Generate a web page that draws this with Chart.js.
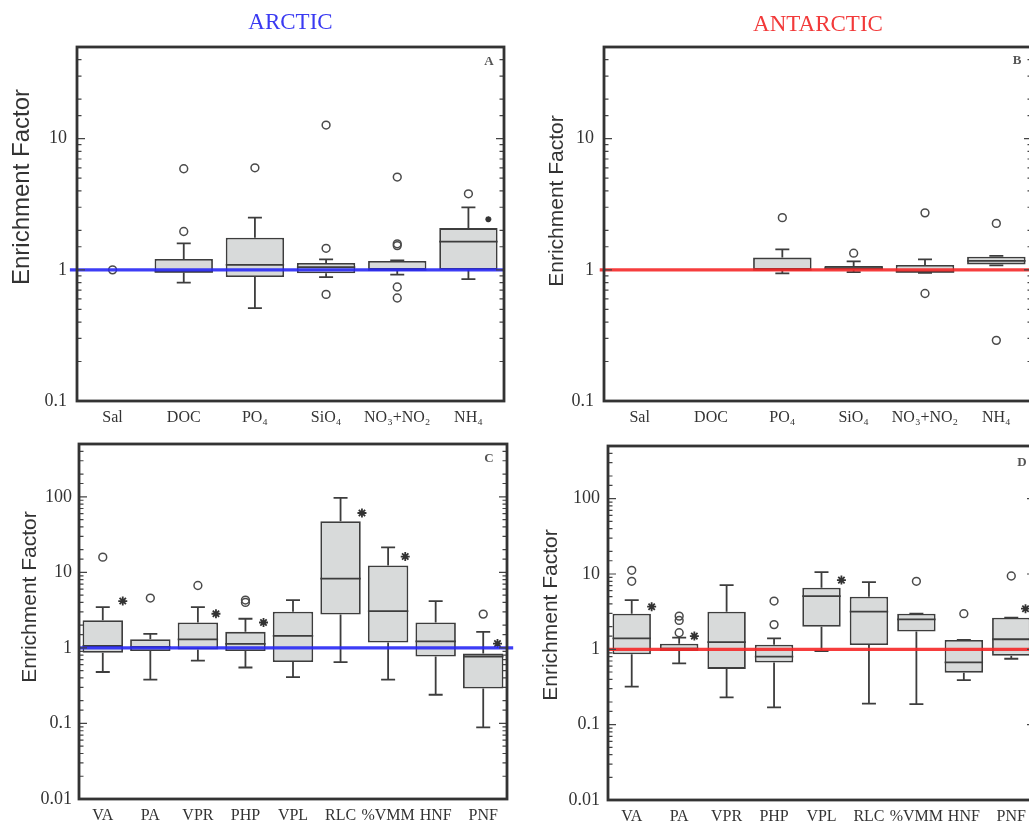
<!DOCTYPE html>
<html>
<head>
<meta charset="utf-8">
<script src="https://cdn.jsdelivr.net/npm/chart.js@4.4.1/dist/chart.umd.min.js"></script>
<style>
  html, body { margin: 0; padding: 0; background: #fff; overflow: hidden; width: 1029px; height: 827px; }
  canvas { position: absolute; left: 0; top: 0; }
</style>
</head>
<body>
<canvas id="chartA" width="1060" height="860"></canvas>
<canvas id="chartB" width="1060" height="860"></canvas>
<canvas id="chartC" width="1060" height="860"></canvas>
<canvas id="chartD" width="1060" height="860"></canvas>
<script>
// categories
const nutrientLabels = ['Sal', 'DOC', 'PO₄', 'SiO₄', 'NO₃+NO₂', 'NH₄'];
const bioLabels = ['VA', 'PA', 'VPR', 'PHP', 'VPL', 'RLC', '%VMM', 'HNF', 'PNF'];

// box stats per category: [low whisker, q1, median, q3, high whisker]
const arcticNutrientBoxes = [
    null,
    [0.80, 0.95, 0.97, 1.21, 1.59],
    [0.51, 0.88, 1.09, 1.76, 2.50],
    [0.88, 0.94, 1.05, 1.13, 1.20],
    [0.92, 1.00, 1.00, 1.17, 1.18],
    [0.85, 1.00, 1.64, 2.08, 2.99]
];
// outliers: [category index, value]
const arcticNutrientOutliers = [[0, 1.0], [1, 1.96], [1, 5.9], [2, 6.0], [3, 12.7], [3, 1.46], [3, 0.65],
    [4, 5.1], [4, 1.58], [4, 1.53], [4, 0.74], [4, 0.61], [5, 3.8]];
// significance asterisks: [category position, value]
const arcticNutrientStars = [[5.28, 2.43]];

const antarcticNutrientBoxes = [
    null,
    null,
    [0.94, 1.00, 1.00, 1.24, 1.43],
    [0.96, 1.00, 1.03, 1.07, 1.16],
    [0.95, 0.95, 0.97, 1.09, 1.20],
    [1.08, 1.10, 1.17, 1.26, 1.28]
];
const antarcticNutrientOutliers = [[2, 2.5], [3, 1.34], [4, 2.72], [4, 0.66], [5, 2.26], [5, 0.29]];
const antarcticNutrientStars = [];

const arcticBioBoxes = [
    [0.48, 0.86, 1.06, 2.33, 3.47],
    [0.38, 0.91, 1.03, 1.30, 1.53],
    [0.68, 0.95, 1.30, 2.17, 3.47],
    [0.55, 0.91, 1.13, 1.63, 2.43],
    [0.41, 0.65, 1.44, 3.01, 4.30],
    [0.65, 2.77, 8.27, 47.4, 96.7],
    [0.38, 1.18, 3.07, 12.3, 21.4],
    [0.24, 0.77, 1.22, 2.17, 4.17],
    [0.089, 0.29, 0.77, 0.84, 1.63]
];
const arcticBioOutliers = [[0, 15.9], [1, 4.57], [2, 6.7], [3, 4.0], [3, 4.3], [8, 2.8]];
const arcticBioStars = [[0.42, 4.17], [2.38, 2.83], [3.38, 2.17], [5.45, 61], [6.36, 16.2], [8.3, 1.14]];

const antarcticBioBoxes = [
    [0.32, 0.86, 1.40, 2.97, 4.5],
    [0.65, 0.95, 1.02, 1.19, 1.43],
    [0.23, 0.55, 1.25, 3.16, 7.1],
    [0.17, 0.67, 0.80, 1.15, 1.40],
    [0.95, 2.00, 5.08, 6.56, 10.6],
    [0.19, 1.14, 3.16, 5.00, 7.8],
    [0.187, 1.72, 2.50, 2.97, 2.97],
    [0.39, 0.49, 0.67, 1.33, 1.33],
    [0.75, 0.82, 1.36, 2.63, 2.63]
];
const antarcticBioOutliers = [[0, 11.2], [0, 8.0], [1, 2.76], [1, 2.42], [1, 1.66], [3, 4.37], [3, 2.13],
    [6, 8.0], [7, 2.97], [8, 9.4]];
const antarcticBioStars = [[0.42, 3.68], [1.32, 1.5], [4.42, 8.3], [8.3, 3.46]];

const CW = 1060, CH = 860;
const Y_AXIS_W = 60, X_AXIS_H = 30;
const LINE_COLOR = '#3d3d3d';

function isDecade(v) {
    const l = Math.log10(v);
    return Math.abs(l - Math.round(l)) < 1e-6;
}

// whiskers + medians, drawn right after the boxes so the reference line stays on top
function boxPlugin(boxes) {
    return {
        id: 'boxWhiskers',
        afterDatasetDraw(chart, args) {
            if (args.index !== 0) return;
            const y = chart.scales.y;
            const meta = chart.getDatasetMeta(0);
            const ctx = chart.ctx;
            ctx.save();
            ctx.strokeStyle = LINE_COLOR;
            ctx.lineWidth = 1.8;
            boxes.forEach((b, i) => {
                if (!b) return;
                const bar = meta.data[i];
                const x = bar.x, half = bar.width / 2, cap = 7;
                const [lo, q1, med, q3, hi] = b;
                const pLo = y.getPixelForValue(lo), pQ1 = y.getPixelForValue(q1);
                const pMed = y.getPixelForValue(med), pQ3 = y.getPixelForValue(q3);
                const pHi = y.getPixelForValue(hi);
                ctx.beginPath();
                ctx.moveTo(x, pQ3); ctx.lineTo(x, pHi);
                ctx.moveTo(x - cap, pHi); ctx.lineTo(x + cap, pHi);
                ctx.moveTo(x, pQ1); ctx.lineTo(x, pLo);
                ctx.moveTo(x - cap, pLo); ctx.lineTo(x + cap, pLo);
                ctx.moveTo(x - half, pMed); ctx.lineTo(x + half, pMed);
                ctx.stroke();
            });
            ctx.restore();
        }
    };
}

// frame, inward log ticks and the panel texts
function framePlugin(cfg) {
    return {
        id: 'frameText',
        afterDraw(chart) {
            const ctx = chart.ctx;
            const {left, top, right, bottom} = chart.chartArea;
            const y = chart.scales.y;
            ctx.save();
            ctx.strokeStyle = '#444';
            ctx.lineWidth = 1.2;
            ctx.beginPath();
            y.ticks.forEach(t => {
                const py = y.getPixelForValue(t.value);
                const len = isDecade(t.value) ? 8 : 4.5;
                ctx.moveTo(left, py); ctx.lineTo(left + len, py);
                ctx.moveTo(right, py); ctx.lineTo(right - len, py);
            });
            ctx.stroke();
            ctx.strokeStyle = '#333';
            ctx.lineWidth = 2.8;
            ctx.strokeRect(left, top, right - left, bottom - top);

            ctx.textAlign = 'center';
            ctx.textBaseline = 'middle';
            if (cfg.title) {
                ctx.fillStyle = cfg.titleColor;
                ctx.font = '23px "Liberation Serif"';
                ctx.fillText(cfg.title, (left + right) / 2, cfg.titleY);
            }
            ctx.fillStyle = '#555';
            ctx.font = 'bold 13px "Liberation Serif"';
            ctx.fillText(cfg.letter, right - cfg.letterDx, top + cfg.letterDy);

            ctx.fillStyle = '#333';
            ctx.font = cfg.yTitleSize + 'px "Liberation Sans"';
            ctx.translate(cfg.yTitleX, cfg.yTitleY);
            ctx.rotate(-Math.PI / 2);
            ctx.fillText('Enrichment Factor', 0, 0);
            ctx.restore();
        }
    };
}

function makeChart(id, cfg) {
    const n = cfg.labels.length;
    const [L, T, R, B] = cfg.area;
    return new Chart(document.getElementById(id), {
        type: 'bar',
        data: {
            labels: cfg.labels,
            datasets: [
                {
                    type: 'bar',
                    xAxisID: 'x',
                    yAxisID: 'y',
                    data: cfg.boxes.map(b => b ? [b[1], b[3]] : null),
                    backgroundColor: '#d8dada',
                    borderColor: LINE_COLOR,
                    borderWidth: 1.8,
                    borderSkipped: false,
                    grouped: false,
                    barPercentage: cfg.barPct,
                    categoryPercentage: 1,
                    order: 3
                },
                {
                    type: 'scatter',
                    xAxisID: 'xl',
                    yAxisID: 'y',
                    data: cfg.outliers.map(([x, v]) => ({x: x, y: v})),
                    pointStyle: 'circle',
                    pointRadius: 3.9,
                    borderColor: '#4a4a4a',
                    backgroundColor: 'rgba(0,0,0,0)',
                    borderWidth: 1.5,
                    order: 2
                },
                {
                    type: 'scatter',
                    xAxisID: 'xl',
                    yAxisID: 'y',
                    data: cfg.stars.map(([x, v]) => ({x: x, y: v})),
                    pointStyle: 'star',
                    pointRadius: cfg.starSize,
                    borderColor: '#333',
                    borderWidth: 1.8,
                    order: 2
                },
                {
                    type: 'line',
                    xAxisID: 'xl',
                    yAxisID: 'y',
                    data: [{x: cfg.refSpan[0], y: 1}, {x: cfg.refSpan[1], y: 1}],
                    borderColor: cfg.refColor,
                    borderWidth: 3.2,
                    pointRadius: 0,
                    clip: false,
                    order: 1
                }
            ]
        },
        options: {
            responsive: false,
            animation: false,
            devicePixelRatio: 1,
            layout: {
                padding: {left: L - Y_AXIS_W, top: T, right: CW - R, bottom: CH - B - X_AXIS_H}
            },
            plugins: {legend: {display: false}, tooltip: {enabled: false}},
            scales: {
                x: {
                    type: 'category',
                    offset: true,
                    grid: {display: false, drawTicks: false},
                    border: {display: false},
                    afterFit: s => { s.height = X_AXIS_H; },
                    ticks: {
                        autoSkip: false,
                        maxRotation: 0,
                        padding: 7,
                        color: '#333',
                        font: {family: 'Liberation Serif', size: 16}
                    }
                },
                xl: {
                    type: 'linear',
                    display: false,
                    offset: false,
                    grid: {offset: false},
                    min: -0.5,
                    max: n - 0.5
                },
                y: {
                    type: 'logarithmic',
                    min: cfg.yMin,
                    max: cfg.yMax,
                    grid: {display: false, drawTicks: false},
                    border: {display: false},
                    afterFit: s => { s.width = Y_AXIS_W; },
                    ticks: {
                        autoSkip: false,
                        padding: cfg.yPad,
                        color: '#333',
                        font: {family: 'Liberation Serif', size: 18},
                        callback: v => isDecade(v) ? String(+v.toPrecision(3)) : ''
                    }
                }
            }
        },
        plugins: [boxPlugin(cfg.boxes), framePlugin(cfg)]
    });
}

makeChart('chartA', {
    labels: nutrientLabels, boxes: arcticNutrientBoxes, outliers: arcticNutrientOutliers, stars: arcticNutrientStars,
    area: [77, 47, 504, 401], yMin: 0.1, yMax: 50, yPad: 10, barPct: 0.82, starSize: 3,
    refColor: 'rgba(40,40,245,0.9)', refSpan: [-0.6, 5.5],
    title: 'ARCTIC', titleColor: '#3a3af2', titleY: 23, letter: 'A', letterDx: 15, letterDy: 15,
    yTitleX: 22, yTitleY: 187, yTitleSize: 24
});

makeChart('chartB', {
    labels: nutrientLabels, boxes: antarcticNutrientBoxes, outliers: antarcticNutrientOutliers, stars: antarcticNutrientStars,
    area: [604, 47, 1032, 401], yMin: 0.1, yMax: 50, yPad: 10, barPct: 0.82, starSize: 3,
    refColor: 'rgba(245,40,40,0.9)', refSpan: [-0.56, 5.6],
    title: 'ANTARCTIC', titleColor: '#f23a3a', titleY: 25, letter: 'B', letterDx: 15, letterDy: 14,
    yTitleX: 557, yTitleY: 201, yTitleSize: 21
});

makeChart('chartC', {
    labels: bioLabels, boxes: arcticBioBoxes, outliers: arcticBioOutliers, stars: arcticBioStars,
    area: [79, 444, 507, 799], yMin: 0.01, yMax: 500, yPad: 7, barPct: 0.85, starSize: 4.5,
    refColor: 'rgba(40,40,245,0.9)', refSpan: [-0.5, 8.63],
    title: null, letter: 'C', letterDx: 18, letterDy: 15,
    yTitleX: 30, yTitleY: 597, yTitleSize: 21
});

makeChart('chartD', {
    labels: bioLabels, boxes: antarcticBioBoxes, outliers: antarcticBioOutliers, stars: antarcticBioStars,
    area: [608, 446, 1035, 800], yMin: 0.01, yMax: 500, yPad: 8, barPct: 0.81, starSize: 4.5,
    refColor: 'rgba(245,40,40,0.9)', refSpan: [-0.5, 8.6],
    title: null, letter: 'D', letterDx: 13, letterDy: 17,
    yTitleX: 551, yTitleY: 615, yTitleSize: 21
});
</script>
</body>
</html>
